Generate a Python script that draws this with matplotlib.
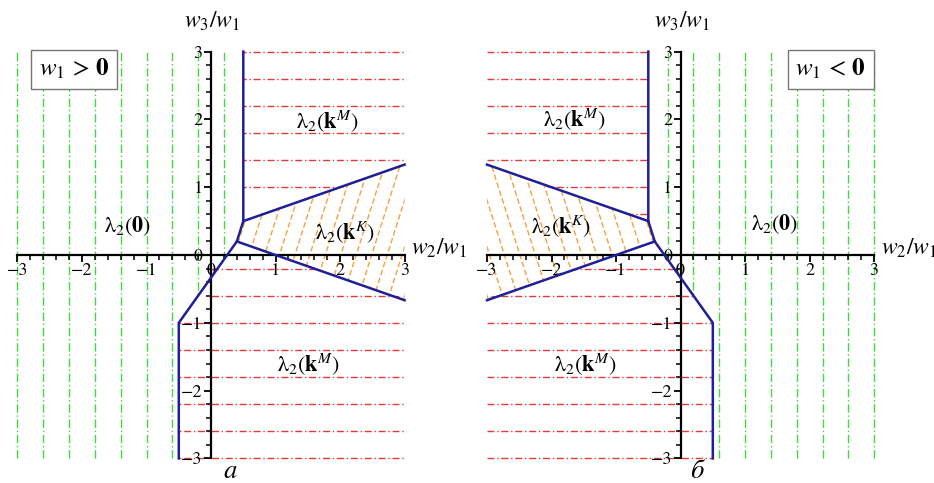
import matplotlib
matplotlib.use("Agg")
import matplotlib.pyplot as plt
from matplotlib.patches import Polygon
from matplotlib.ticker import MultipleLocator

plt.rcParams['font.family'] = 'STIXGeneral'
plt.rcParams['mathtext.fontset'] = 'stix'

BLUE = '#1f1f96'
GREEN = '#3fd83f'
RED = '#e23a3a'
ORANGE = '#f0a33c'

# ---- panel a (w1 > 0) ----
a_bnd_x = [0.5, 0.5, 0.4, -0.5, -0.5]
a_bnd_y = [3.0, 0.5, 0.2, -1.0, -3.0]
a_ray1_x = [0.5, 3.0]
a_ray1_y = [0.5, 4 / 3]
a_ray2_x = [0.4, 3.0]
a_ray2_y = [0.2, -2 / 3]
a_green_x = [-3.0, -2.6, -2.2, -1.8, -1.4, -1.0, -0.6, -0.2, 0.2]
a_red_up_y = [3.0, 2.6, 2.2, 1.8, 1.4, 1.0]
a_red_lo_y = [-0.2, -0.6, -1.0, -1.4, -1.8, -2.2, -2.6, -3.0]
a_orange_c = [0.36, 0.59, 0.83, 1.06, 1.30, 1.53, 1.77, 2.01, 2.25, 2.49, 2.73, 2.96, 3.2]
a_green_reg = [(-3.1, 3.1), (0.5, 3.1), (0.5, 0.5), (0.4, 0.2), (-0.5, -1), (-0.5, -3.1), (-3.1, -3.1)]
a_red_up_reg = [(0.5, 3.1), (3.1, 3.1), (3.1, 4 / 3), (0.5, 0.5)]
a_red_lo_reg = [(0, 1 / 3), (3.1, -2 / 3), (3.1, -3.1), (-0.5, -3.1), (-0.5, -0.95), (0, -0.9)]
a_orange_reg = [(0.5, 0.5), (3, 4 / 3), (3, -2 / 3), (0.4, 0.2)]

# ---- panel b (w1 < 0) ----
b_bnd_x = [-0.5, -0.5, -0.4, 0.5, 0.5]
b_bnd_y = [3.0, 0.5, 0.2, -1.0, -3.0]
b_ray1_x = [-0.5, -3.0]
b_ray1_y = [0.5, 4 / 3]
b_ray2_x = [-0.4, -3.0]
b_ray2_y = [0.2, -2 / 3]
b_green_x = [-0.2, 0.2, 0.6, 1.0, 1.4, 1.8, 2.2, 2.6, 3.0]
b_red_up_y = [3.0, 2.6, 2.2, 1.8, 1.4, 1.0, 0.6]
b_red_lo_y = [-0.2, -0.6, -1.0, -1.4, -1.8, -2.2, -2.6, -3.0]
b_orange_c = [-0.36, -0.59, -0.83, -1.06, -1.30, -1.53, -1.77, -2.01, -2.25, -2.49, -2.73, -2.96, -3.2]
b_green_reg = [(3.1, 3.1), (-0.5, 3.1), (-0.5, 0.5), (-0.4, 0.2), (0.5, -1), (0.5, -3.1), (3.1, -3.1)]
b_red_up_reg = [(-0.5, 3.1), (-3.1, 3.1), (-3.1, 4 / 3), (-0.5, 0.5)]
b_red_lo_reg = [(-0.4, 0.2), (-3.1, -2 / 3), (-3.1, -3.1), (0.5, -3.1), (0.5, -1)]
b_orange_reg = [(-0.5, 0.5), (-3, 4 / 3), (-3, -2 / 3), (-0.4, 0.2)]

fig = plt.figure(figsize=(9.34, 4.83), dpi=100)
ax1 = fig.add_axes([0.0118, 0.0368, 0.4283, 0.8704])
ax2 = fig.add_axes([0.5145, 0.0368, 0.4283, 0.8704])


def clipped(ax, xs, ys, reg, **kw):
    poly = Polygon(reg, closed=True, transform=ax.transData)
    ln, = ax.plot(xs, ys, **kw)
    ln.set_clip_path(poly)


def panel(ax, bnd_x, bnd_y, r1x, r1y, r2x, r2y, gx, ruy, rly, oc,
          greg, rureg, rlreg, oreg, slope):
    ax.set_xlim(-3.1, 3.1)
    ax.set_ylim(-3.1, 3.1)
    for s in ['top', 'right']:
        ax.spines[s].set_visible(False)
    ax.spines['left'].set_position('zero')
    ax.spines['bottom'].set_position('zero')
    ax.spines['left'].set_bounds(-3, 3)
    ax.spines['bottom'].set_bounds(-3, 3)
    ax.spines['left'].set_linewidth(1.6)
    ax.spines['bottom'].set_linewidth(1.6)
    ax.set_xticks([-3, -2, -1, 0, 1, 2, 3])
    ax.set_yticks([-3, -2, -1, 0, 1, 2, 3])
    ax.xaxis.set_minor_locator(MultipleLocator(0.2))
    ax.yaxis.set_minor_locator(MultipleLocator(0.2))
    ax.tick_params(which='major', length=5, width=1.3, labelsize=13, pad=1)
    ax.tick_params(which='minor', length=3.5, width=1.1)

    for x in gx:
        clipped(ax, [x, x], [-3, 3], greg, color=GREEN, lw=1.0,
                ls=(0, (6, 2, 1, 2)), zorder=1)
    for y in ruy:
        clipped(ax, [-3, 3], [y, y], rureg, color=RED, lw=1.0,
                ls=(0, (5, 2, 1, 2)), zorder=1)
    for y in rly:
        clipped(ax, [-3, 3], [y, y], rlreg, color=RED, lw=1.0,
                ls=(0, (5, 2, 1, 2)), zorder=1)
    for c in oc:
        clipped(ax, [c - 1 / slope, c + 2 / slope], [-1, 2], oreg, color=ORANGE,
                lw=1.0, ls=(0, (4, 2)), zorder=1)

    ax.plot(bnd_x, bnd_y, color=BLUE, lw=1.8, zorder=3, clip_on=False)
    ax.plot(r1x, r1y, color=BLUE, lw=1.8, zorder=3, clip_on=False)
    ax.plot(r2x, r2y, color=BLUE, lw=1.8, zorder=3, clip_on=False)

    ax.text(0.02, 3.45, r'$w_3/w_1$', fontsize=17, ha='center', va='center',
            clip_on=False)
    ax.text(3.1, 0.1, r'$w_2/w_1$', fontsize=17, ha='left', va='center',
            clip_on=False)


panel(ax1, a_bnd_x, a_bnd_y, a_ray1_x, a_ray1_y, a_ray2_x, a_ray2_y,
      a_green_x, a_red_up_y, a_red_lo_y, a_orange_c,
      a_green_reg, a_red_up_reg, a_red_lo_reg, a_orange_reg, 3.0)
panel(ax2, b_bnd_x, b_bnd_y, b_ray1_x, b_ray1_y, b_ray2_x, b_ray2_y,
      b_green_x, b_red_up_y, b_red_lo_y, b_orange_c,
      b_green_reg, b_red_up_reg, b_red_lo_reg, b_orange_reg, -3.0)

lab = dict(fontsize=16, ha='center', va='center', zorder=5)
box = dict(boxstyle='square,pad=0.3', fc='white', ec='#777777', lw=1.0)

ax1.text(-2.12, 2.74, r'$w_1\,>\,\mathbf{0}$', fontsize=18, ha='center', va='center',
         bbox=box, zorder=4)
ax1.text(-1.3, 0.42, r'$\mathrm{\lambda}_2(\mathbf{0})$', **lab)
ax1.text(1.8, 1.96, r'$\mathrm{\lambda}_2(\mathbf{k}^M)$', **lab)
ax1.text(2.08, 0.32, r'$\mathrm{\lambda}_2(\mathbf{k}^K)$', **lab)
ax1.text(1.5, -1.62, r'$\mathrm{\lambda}_2(\mathbf{k}^M)$', **lab)
ax1.text(0.3, -3.2, 'а', fontsize=19, style='italic', ha='center',
         va='center', clip_on=False)

ax2.text(2.33, 2.74, r'$w_1\,<\,\mathbf{0}$', fontsize=18, ha='center', va='center',
         bbox=box, zorder=4)
ax2.text(1.45, 0.45, r'$\mathrm{\lambda}_2(\mathbf{0})$', **lab)
ax2.text(-1.65, 2.0, r'$\mathrm{\lambda}_2(\mathbf{k}^M)$', **lab)
ax2.text(-1.85, 0.42, r'$\mathrm{\lambda}_2(\mathbf{k}^K)$', **lab)
ax2.text(-1.47, -1.62, r'$\mathrm{\lambda}_2(\mathbf{k}^M)$', **lab)
ax2.text(0.25, -3.2, 'б', fontsize=19, style='italic', ha='center',
         va='center', clip_on=False)

fig.savefig('out.png', dpi=100)
